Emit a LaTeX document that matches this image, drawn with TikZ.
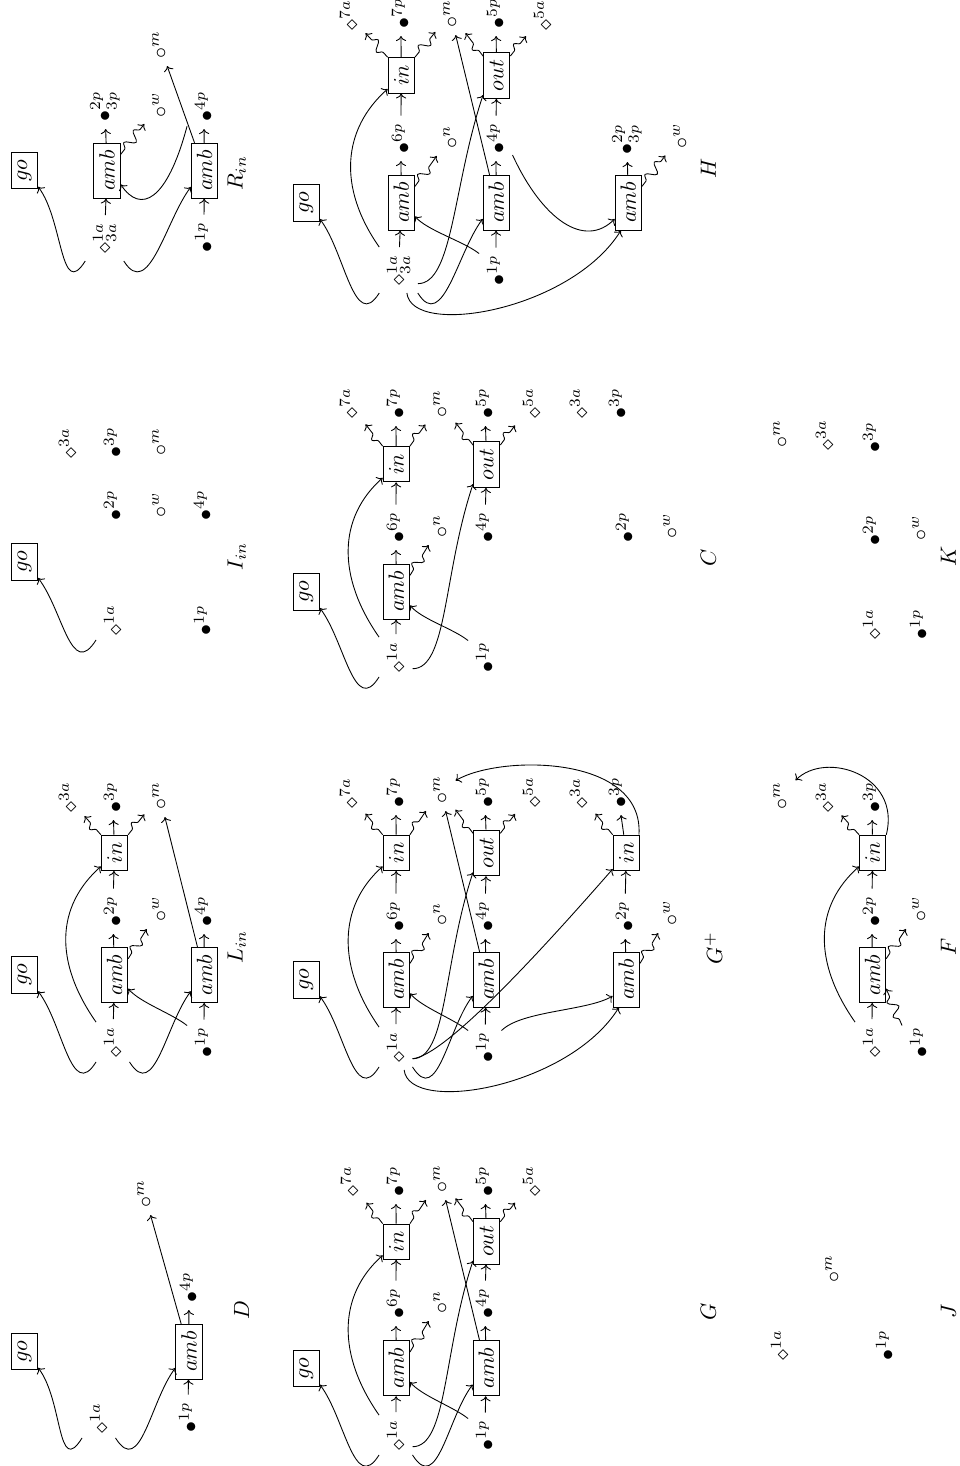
\documentclass[tikz,border=0pt]{standalone}
\usetikzlibrary{decorations.pathmorphing, arrows.meta}
\tikzset{
	tok/.style={rotate=90, anchor=mid west},
	proc/.style={draw, rotate=90, inner xsep=3.3pt, inner ysep=2.5pt, minimum height=12pt}
}
\tikzset{
	sq/.style={->, decorate, decoration={snake, amplitude=2.2pt, segment length=7pt, pre length=3pt, post length=3pt}},
	tag/.style={rotate=90}
}
\begin{document}
\begin{tikzpicture}[x=0.4545pt, y=-0.4545pt, >={Computer Modern Rightarrow[width=4.6pt,length=2.3pt]}]
  \useasboundingbox (0,0) rectangle (959,1466);
  % D
  \node[proc] (dgo) at (24.5,1351.5) {$go$};
  \node[proc] (damb) at (189,1351.7) {$amb$};
  \node[tok] (d1a) at (103,1441) {$\diamond^{1a}$};
  \node[tok] (d1p) at (192,1440) {$\bullet^{1p}$};
  \node[tok] (d4p) at (193,1310) {$\bullet^{4p}$};
  \node[tok] (dm) at (147,1215) {$\circ^{m}$};
  \node[tag] (dlbl) at (241.7,1310) {$D$};
  \draw[->] (d1a.140) .. controls +(-25,40) and +(25,33) .. (dgo.220);
  \draw[->] (d1a.220) .. controls +(25,40) and +(-25,33) .. (damb.140);
  \foreach \a/\b in {d1p/damb, damb/d4p, damb/dm} \draw[->] (\a) -- (\b);
  % L_in
  \node[proc] (lgo) at (24.5,975) {$go$};
  \node[proc] (lamb1) at (114.5,975) {$amb$};
  \node[proc] (lin) at (114.5,852.8) {$in$};
  \node[proc] (lamb2) at (204.5,975) {$amb$};
  \node[tok] (l1a) at (117,1065) {$\diamond^{1a}$};
  \node[tok] (l2p) at (117,934) {$\bullet^{2p}$};
  \node[tok] (lw) at (162,929) {$\circ^{w}$};
  \node[tok] (l3a) at (72,820) {$\diamond^{3a}$};
  \node[tok] (l3p) at (117,820) {$\bullet^{3p}$};
  \node[tok] (lm) at (162,817) {$\circ^{m}$};
  \node[tok] (l1p) at (208,1065) {$\bullet^{1p}$};
  \node[tok] (l4p) at (208,934) {$\bullet^{4p}$};
  \node[tag] (llbl) at (236.7,946.7) {$L_{in}$};
  \draw[->] (l1a.140) .. controls +(-25,40) and +(25,33) .. (lgo.220);
  \draw[->] (l1a.220) .. controls +(25,40) and +(-25,33) .. (lamb2.140);
  \draw[->] (l1a.40) .. controls +(-42,-60) and +(-45,40) .. (lin.135);
  \draw[->] (l1p.45) .. controls +(-15,-12) and +(12,14) .. (lamb1.225);
  \foreach \a/\b in {l1a/lamb1, lamb1/l2p, l2p/lin, lin/l3p, l1p/lamb2, lamb2/l4p, lamb2/lm} \draw[->] (\a) -- (\b);
  \foreach \a/\b in {lamb1.320/lw, lin.north east/l3a, lin.south east/lm} \draw[sq] (\a) -- (\b);
  % I_in
  \node[proc] (igo) at (24.5,561.7) {$go$};
  \node[tok] (i1a) at (117,643) {$\diamond^{1a}$};
  \node[tok] (i1p) at (207,643) {$\bullet^{1p}$};
  \node[tok] (i2p) at (117,528) {$\bullet^{2p}$};
  \node[tok] (iw) at (162,525) {$\circ^{w}$};
  \node[tok] (i4p) at (207,528) {$\bullet^{4p}$};
  \node[tok] (i3a) at (72,466) {$\diamond^{3a}$};
  \node[tok] (i3p) at (117,465) {$\bullet^{3p}$};
  \node[tok] (im) at (162,463) {$\circ^{m}$};
  \node[tag] (ilbl) at (236.7,556.7) {$I_{in}$};
  \draw[->] (i1a.140) .. controls +(-25,40) and +(25,33) .. (igo.220);
  % R_in
  \node[proc] (rgo) at (24.5,170.5) {$go$};
  \node[proc] (ramb1) at (107,170.7) {$amb$};
  \node[proc] (ramb2) at (204.5,170.7) {$amb$};
  \node[tok] (r1a) at (106,261) {$\diamond^{1a}_{3a}$};
  \node[tok] (r2p) at (106,129) {$\bullet^{2p}_{3p}$};
  \node[tok] (rw) at (162,125) {$\circ^{w}$};
  \node[tok] (rm) at (162,66) {$\circ^{m}$};
  \node[tok] (r1p) at (208,260) {$\bullet^{1p}$};
  \node[tok] (r4p) at (208,129) {$\bullet^{4p}$};
  \node[tag] (rlbl) at (236.7,173.3) {$R_{in}$};
  \draw[->] (r1a.140) .. controls +(-25,40) and +(25,33) .. (rgo.220);
  \draw[->] (r1a.220) .. controls +(25,40) and +(-25,33) .. (ramb2.140);
  \draw[->] (r4p.140) .. controls +(-20,75) and +(20,30) .. (ramb1.225);
  \foreach \a/\b in {r1a/ramb1, ramb1/r2p, r1p/ramb2, ramb2/r4p, ramb2/rm} \draw[->] (\a) -- (\b);
  \draw[sq] (ramb1.320) -- (rw);
  % G
  \node[proc] (ggo) at (306.2,1368.3) {$go$};
  \node[proc] (gamb1) at (396.3,1368.3) {$amb$};
  \node[proc] (gin) at (396.3,1241.7) {$in$};
  \node[proc] (gamb2) at (486.3,1368.3) {$amb$};
  \node[proc] (gout) at (486.7,1241.2) {$out$};
  \node[tok] (g1a) at (400,1458) {$\diamond^{1a}$};
  \node[tok] (g6p) at (400,1326) {$\bullet^{6p}$};
  \node[tok] (gn) at (443,1321) {$\circ^{n}$};
  \node[tok] (g7a) at (354,1204) {$\diamond^{7a}$};
  \node[tok] (g7p) at (400,1204) {$\bullet^{7p}$};
  \node[tok] (gm) at (443,1200) {$\circ^{m}$};
  \node[tok] (g1p) at (489,1458) {$\bullet^{1p}$};
  \node[tok] (g4p) at (489,1326) {$\bullet^{4p}$};
  \node[tok] (g5p) at (489,1204) {$\bullet^{5p}$};
  \node[tok] (g5a) at (536,1204) {$\diamond^{5a}$};
  \node[tag] (glbl) at (708.3,1311.7) {$G$};
  \draw[->] (g1a.140) .. controls +(-25,40) and +(25,33) .. (ggo.220);
  \draw[->] (g1a.220) .. controls +(25,40) and +(-25,33) .. (gamb2.140);
  \draw[->] (g1a.40) .. controls +(-42,-60) and +(-45,40) .. (gin.135);
  \draw[->] (g1a.235) .. controls +(35,0) and +(-30,90) .. (gout.145);
  \draw[->] (g1p.45) .. controls +(-15,-12) and +(12,14) .. (gamb1.225);
  \foreach \a/\b in {g1a/gamb1, gamb1/g6p, g6p/gin, gin/g7p, g1p/gamb2, gamb2/g4p, gamb2/gm, g4p/gout, gout/g5p} \draw[->] (\a) -- (\b);
  \foreach \a/\b in {gamb1.320/gn, gin.north east/g7a, gin.south east/gm, gout.35/gm, gout.325/g5a} \draw[sq] (\a) -- (\b);
  % G+
  \node[proc] (gpgo) at (306.2,980) {$go$};
  \node[proc] (gpamb1) at (396.3,979.7) {$amb$};
  \node[proc] (gpin1) at (396.3,852.8) {$in$};
  \node[proc] (gpamb2) at (486.3,979.7) {$amb$};
  \node[proc] (gpout) at (486.7,852.8) {$out$};
  \node[proc] (gpamb3) at (626.3,979.7) {$amb$};
  \node[proc] (gpin2) at (626.3,852.8) {$in$};
  \node[tok] (gp1a) at (400,1070) {$\diamond^{1a}$};
  \node[tok] (gp6p) at (400,939) {$\bullet^{6p}$};
  \node[tok] (gpn) at (443,933) {$\circ^{n}$};
  \node[tok] (gp7a) at (353,816) {$\diamond^{7a}$};
  \node[tok] (gp7p) at (400,815) {$\bullet^{7p}$};
  \node[tok] (gpm) at (443,811) {$\circ^{m}$};
  \node[tok] (gp1p) at (489,1070) {$\bullet^{1p}$};
  \node[tok] (gp4p) at (489,939) {$\bullet^{4p}$};
  \node[tok] (gp5p) at (489,815) {$\bullet^{5p}$};
  \node[tok] (gp5a) at (536,815) {$\diamond^{5a}$};
  \node[tok] (gp2p) at (629,939) {$\bullet^{2p}$};
  \node[tok] (gpw) at (673,933) {$\circ^{w}$};
  \node[tok] (gp3a) at (583,816) {$\diamond^{3a}$};
  \node[tok] (gp3p) at (622,815) {$\bullet^{3p}$};
  \node[tag] (gplbl) at (713.3,948.3) {$G^{+}$};
  \draw[->] (gp1a.140) .. controls +(-25,40) and +(25,33) .. (gpgo.220);
  \draw[->] (gp1a.220) .. controls +(25,40) and +(-25,33) .. (gpamb2.140);
  \draw[->] (gp1a.40) .. controls +(-42,-60) and +(-45,40) .. (gpin1.135);
  \draw[->] (gp1a.235) .. controls +(35,0) and +(-30,90) .. (gpout.145);
  \draw[->] (gp1a.235) .. controls +(33,-3) and +(-70,80) .. (gpin2.140);
  \draw[->] (gp1a.200) .. controls +(5,45) and +(-50,80) .. (gpamb3.165);
  \draw[->] (gp1p.45) .. controls +(-15,-12) and +(12,14) .. (gpamb1.225);
  \draw[->] (gp1p.315) .. controls +(20,-20) and +(-25,15) .. (gpamb3.140);
  \draw[->] (gpin2.325) .. controls +(5,-80) and +(60,-35) .. (gpm);
  \foreach \a/\b in {gp1a/gpamb1, gpamb1/gp6p, gp6p/gpin1, gpin1/gp7p, gp1p/gpamb2, gpamb2/gp4p, gpamb2/gpm, gp4p/gpout, gpout/gp5p, gpamb3/gp2p, gp2p/gpin2, gpin2/gp3p} \draw[->] (\a) -- (\b);
  \foreach \a/\b in {gpamb1.320/gpn, gpin1.north east/gp7a, gpin1.south east/gpm, gpout.35/gpm, gpout.325/gp5a, gpamb3.320/gpw, gpin2.north east/gp3a} \draw[sq] (\a) -- (\b);
  % C
  \node[proc] (cgo) at (306.2,591.7) {$go$};
  \node[proc] (camb) at (396.3,591.7) {$amb$};
  \node[proc] (cin) at (396.3,464.2) {$in$};
  \node[proc] (cout) at (486.7,464.5) {$out$};
  \node[tok] (c1a) at (400,680) {$\diamond^{1a}$};
  \node[tok] (c6p) at (400,550) {$\bullet^{6p}$};
  \node[tok] (cn) at (443,545) {$\circ^{n}$};
  \node[tok] (c7a) at (353,426) {$\diamond^{7a}$};
  \node[tok] (c7p) at (400,426) {$\bullet^{7p}$};
  \node[tok] (cm) at (443,425) {$\circ^{m}$};
  \node[tok] (c1p) at (489,680) {$\bullet^{1p}$};
  \node[tok] (c4p) at (489,550) {$\bullet^{4p}$};
  \node[tok] (c5p) at (489,426) {$\bullet^{5p}$};
  \node[tok] (c5a) at (536,426) {$\diamond^{5a}$};
  \node[tok] (c3a) at (583,426) {$\diamond^{3a}$};
  \node[tok] (c3p) at (622,426) {$\bullet^{3p}$};
  \node[tok] (c2p) at (629,550) {$\bullet^{2p}$};
  \node[tok] (cw) at (673,546) {$\circ^{w}$};
  \node[tag] (clbl) at (708.3,558.3) {$C$};
  \draw[->] (c1a.140) .. controls +(-25,40) and +(25,33) .. (cgo.220);
  \draw[->] (c1a.40) .. controls +(-42,-60) and +(-45,40) .. (cin.135);
  \draw[->] (c1a.235) .. controls +(35,0) and +(-30,90) .. (cout.145);
  \draw[->] (c1p.45) .. controls +(-15,-12) and +(12,14) .. (camb.225);
  \foreach \a/\b in {c1a/camb, camb/c6p, c6p/cin, cin/c7p, c4p/cout, cout/c5p} \draw[->] (\a) -- (\b);
  \foreach \a/\b in {camb.320/cn, cin.north east/c7a, cin.south east/cm, cout.35/cm, cout.325/c5a} \draw[sq] (\a) -- (\b);
  % H
  \node[proc] (hgo) at (306.2,202.7) {$go$};
  \node[proc] (hamb1) at (401.3,202.7) {$amb$};
  \node[proc] (hin) at (401.3,75.3) {$in$};
  \node[proc] (hamb2) at (496.3,202.7) {$amb$};
  \node[proc] (hout) at (496.7,75.5) {$out$};
  \node[proc] (hamb3) at (628.3,202.7) {$amb$};
  \node[tok] (h1a) at (400,293) {$\diamond^{1a}_{3a}$};
  \node[tok] (h6p) at (405,161) {$\bullet^{6p}$};
  \node[tok] (hn) at (453,156) {$\circ^{n}$};
  \node[tok] (h7a) at (353,38) {$\diamond^{7a}$};
  \node[tok] (h7p) at (405,36) {$\bullet^{7p}$};
  \node[tok] (hm) at (453,35) {$\circ^{m}$};
  \node[tok] (h1p) at (500,293) {$\bullet^{1p}$};
  \node[tok] (h4p) at (500,161) {$\bullet^{4p}$};
  \node[tok] (h5p) at (500,36) {$\bullet^{5p}$};
  \node[tok] (h5a) at (547,38) {$\diamond^{5a}$};
  \node[tok] (h2p) at (628,162) {$\bullet^{2p}_{3p}$};
  \node[tok] (hw) at (683,156) {$\circ^{w}$};
  \node[tag] (hlbl) at (708.3,168.3) {$H$};
  \draw[->] (h1a.140) .. controls +(-25,40) and +(25,33) .. (hgo.220);
  \draw[->] (h1a.220) .. controls +(25,40) and +(-25,33) .. (hamb2.140);
  \draw[->] (h1a.40) .. controls +(-42,-60) and +(-45,40) .. (hin.135);
  \draw[->] (h1a.235) .. controls +(35,0) and +(-30,90) .. (hout.145);
  \draw[->] (h1a.200) .. controls +(5,45) and +(-50,80) .. (hamb3.165);
  \draw[->] (h1p.45) .. controls +(-15,-12) and +(12,14) .. (hamb1.225);
  \draw[->] (h4p.225) .. controls +(30,65) and +(-30,30) .. (hamb3.140);
  \foreach \a/\b in {h1a/hamb1, hamb1/h6p, h6p/hin, hin/h7p, h1p/hamb2, hamb2/h4p, hamb2/hm, h4p/hout, hout/h5p, hamb3/h2p} \draw[->] (\a) -- (\b);
  \foreach \a/\b in {hamb1.320/hn, hin.north east/h7a, hin.south east/hm, hout.35/hm, hout.325/h5a, hamb3.320/hw} \draw[sq] (\a) -- (\b);
  % J
  \node[tok] (j1a) at (784,1368) {$\diamond^{1a}$};
  \node[tok] (jm) at (835,1290) {$\circ^{m}$};
  \node[tok] (j1p) at (889,1368) {$\bullet^{1p}$};
  \node[tag] (jlbl) at (948.3,1311.7) {$J$};
  % F
  \node[proc] (famb) at (872.5,975) {$amb$};
  \node[proc] (fin) at (872.7,852.8) {$in$};
  \node[tok] (f1a) at (876,1065) {$\diamond^{1a}$};
  \node[tok] (f1p) at (923,1065) {$\bullet^{1p}$};
  \node[tok] (f2p) at (876,934) {$\bullet^{2p}$};
  \node[tok] (fw) at (922,929) {$\circ^{w}$};
  \node[tok] (f3a) at (829,820) {$\diamond^{3a}$};
  \node[tok] (f3p) at (876,820) {$\bullet^{3p}$};
  \node[tok] (fm) at (783,817) {$\circ^{m}$};
  \node[tag] (flbl) at (948.3,946.7) {$F$};
  \draw[->] (f1a.40) .. controls +(-42,-60) and +(-45,40) .. (fin.135);
  \draw[->] (fin.south east) .. controls +(15,-60) and +(45,-45) .. (fm);
  \draw[sq] (f1p.45) -- (famb.225);
  \foreach \a/\b in {f1a/famb, famb/f2p, f2p/fin, fin/f3p} \draw[->] (\a) -- (\b);
  \foreach \a/\b in {famb.320/fw, fin.north east/f3a} \draw[sq] (\a) -- (\b);
  % K
  \node[tok] (km) at (783,455) {$\circ^{m}$};
  \node[tok] (k3a) at (829,458) {$\diamond^{3a}$};
  \node[tok] (k3p) at (876,460) {$\bullet^{3p}$};
  \node[tok] (k2p) at (876,553) {$\bullet^{2p}$};
  \node[tok] (kw) at (922,548) {$\circ^{w}$};
  \node[tok] (k1a) at (876,647) {$\diamond^{1a}$};
  \node[tok] (k1p) at (923,647) {$\bullet^{1p}$};
  \node[tag] (klbl) at (948.3,556.7) {$K$};
\end{tikzpicture}
\end{document}
